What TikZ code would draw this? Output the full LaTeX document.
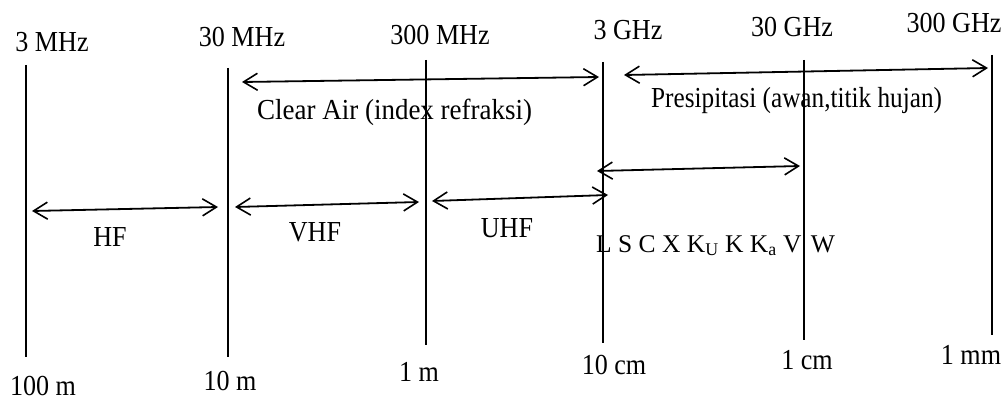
\documentclass[tikz,border=0pt]{standalone}
\usepackage{fontspec}
\setmainfont{Liberation Serif}
\newfontfamily\lblfont[FakeStretch=0.9]{Liberation Serif}
\newfontfamily\clearfont[FakeStretch=0.93]{Liberation Serif}
\newfontfamily\presfont[FakeStretch=0.87]{Liberation Serif}
\usetikzlibrary{arrows.meta}
\begin{document}
\begin{tikzpicture}[x=1pt,y=-1pt,
  vline/.style={line width=2.2pt,black},
  darr/.style={line width=1.8pt,{Straight Barb[length=14pt,width=17pt,line width=1.6pt]}-{Straight Barb[length=14pt,width=17pt,line width=1.6pt]}},
  lbl/.style={anchor=base,inner sep=0pt,font=\lblfont\fontsize{29}{34}\selectfont}]
\useasboundingbox[fill=white] (0,0) rectangle (1006,401);
% vertical lines
\coordinate (t1) at (26,65);  \coordinate (b1) at (26,357);
\coordinate (t2) at (228,68); \coordinate (b2) at (228,357);
\coordinate (t3) at (426,60); \coordinate (b3) at (426,345);
\coordinate (t4) at (603,62); \coordinate (b4) at (603,343);
\coordinate (t5) at (804,60); \coordinate (b5) at (804,340);
\coordinate (t6) at (992,55); \coordinate (b6) at (992,335);
\foreach \i in {1,...,6} {\draw[vline] (t\i) -- (b\i);}
% top labels
\node[lbl] (f1) at (52,52) {3 MHz};
\node[lbl] (f2) at (242,47) {30 MHz};
\node[lbl] (f3) at (440,45) {300 MHz};
\node[lbl] (f4) at (628,40) {3 GHz};
\node[lbl] (f5) at (792,37) {30 GHz};
\node[lbl] (f6) at (954,33) {300 GHz};
% bottom labels
\node[lbl] (w1) at (43,395) {100 m};
\node[lbl] (w2) at (230,390) {10 m};
\node[lbl] (w3) at (419,381) {1 m};
\node[lbl] (w4) at (614,374) {10 cm};
\node[lbl] (w5) at (807,369) {1 cm};
\node[lbl] (w6) at (971,364) {1 mm};
% arrows
\coordinate (ca1) at (242,82); \coordinate (ca2) at (599,77);
\coordinate (pr1) at (624,75); \coordinate (pr2) at (988,68);
\coordinate (hf1) at (32,211); \coordinate (hf2) at (218,207);
\coordinate (vh1) at (235,207); \coordinate (vh2) at (419,202);
\coordinate (uh1) at (432,201); \coordinate (uh2) at (608,195);
\coordinate (bd1) at (597,171); \coordinate (bd2) at (800,166);
\draw[darr] (ca1) -- (ca2);
\draw[darr] (pr1) -- (pr2);
\draw[darr] (hf1) -- (hf2);
\draw[darr] (vh1) -- (vh2);
\draw[darr] (uh1) -- (uh2);
\draw[darr] (bd1) -- (bd2);
% band labels
\node[lbl,anchor=base west,font=\clearfont\fontsize{29}{34}\selectfont] (clear) at (257,120) {Clear Air (index refraksi)};
\node[lbl,anchor=base west,font=\presfont\fontsize{29}{34}\selectfont] (presip) at (651,108) {Presipitasi (awan,titik hujan)};
\node[lbl] (hf) at (110,246) {HF};
\node[lbl] (vhf) at (315,241) {VHF};
\node[lbl] (uhf) at (507,237) {UHF};
\node[lbl,anchor=base west,font=\fontsize{25.5}{30}\selectfont] (bands) at (596,252) {L S C X K\textsubscript{U} K K\textsubscript{a} V\hspace{3pt} W};
\end{tikzpicture}
\end{document}
